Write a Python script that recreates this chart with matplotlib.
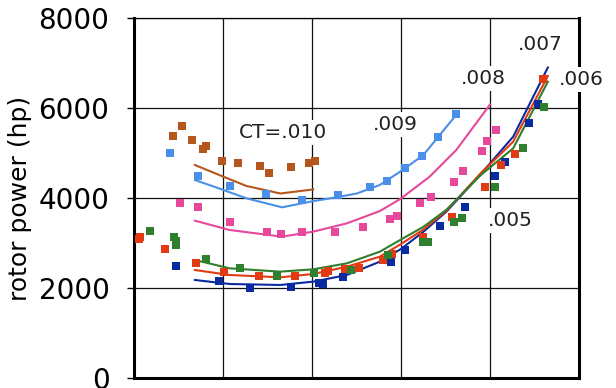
import matplotlib
matplotlib.use("Agg")
import matplotlib.pyplot as plt

# ---------------- data ----------------
y_ticks = [0, 2000, 4000, 6000, 8000]
y_tick_labels = ["0", "2000", "4000", "6000", "8000"]
x_grid = [1, 2, 3, 4]
y_label = "rotor power (hp)"

# measured points (squares)
brown_x = [0.43, 0.53, 0.65, 0.77, 0.80, 0.99, 1.17, 1.41, 1.51, 1.76, 1.96, 2.03]
brown_y = [5378, 5600, 5289, 5082, 5156, 4829, 4770, 4711, 4548, 4681, 4785, 4822]

lblue_x = [0.40, 0.72, 1.07, 1.48, 1.88, 2.29, 2.65, 2.84, 3.04, 3.23, 3.41, 3.62]
lblue_y = [4993, 4489, 4267, 4081, 3956, 4067, 4235, 4378, 4674, 4933, 5348, 5859]

pink_x = [0.51, 0.72, 1.07, 1.49, 1.65, 1.88, 2.26, 2.57, 2.87, 2.95, 3.21, 3.34,
          3.59, 3.70, 3.91, 3.97, 4.07]
pink_y = [3896, 3807, 3474, 3237, 3193, 3252, 3237, 3348, 3526, 3600, 3896, 4015,
          4363, 4607, 5052, 5274, 5511]

navy_x = [0.47, 0.95, 1.30, 1.76, 2.08, 2.12, 2.35, 2.89, 3.04, 3.44, 3.72, 4.06,
          4.17, 4.44, 4.54]
navy_y = [2496, 2156, 2007, 2015, 2104, 2080, 2237, 2585, 2844, 3378, 3793, 4489,
          4807, 5674, 6089]

red_x = [0.05, 0.06, 0.34, 0.69, 1.01, 1.40, 1.81, 2.14, 2.18, 2.37, 2.53, 2.80,
         2.90, 3.25, 3.57, 3.94, 4.12, 4.28, 4.60]
red_y = [3082, 3130, 2867, 2563, 2363, 2267, 2267, 2341, 2385, 2415, 2452, 2622,
         2756, 3141, 3585, 4252, 4733, 4978, 6637]

green_x = [0.17, 0.45, 0.47, 0.47, 0.80, 1.19, 1.60, 2.02, 2.44, 2.85, 3.25, 3.30,
           3.59, 3.68, 4.06, 4.37, 4.61]
green_y = [3274, 3126, 3040, 2955, 2644, 2452, 2267, 2341, 2400, 2733, 3030, 3030,
           3474, 3548, 4252, 5104, 6030]

# fitted curves
brown_fit_x = [0.68, 1.00, 1.26, 1.64, 2.01]
brown_fit_y = [4733, 4474, 4267, 4100, 4190]

lblue_fit_x = [0.68, 1.00, 1.26, 1.66, 2.01, 2.27, 2.50, 2.76, 3.00, 3.25, 3.62]
lblue_fit_y = [4400, 4178, 3993, 3793, 3930, 4015, 4100, 4289, 4600, 4955, 5850]

pink_fit_x = [0.68, 1.07, 1.66, 2.01, 2.39, 2.76, 2.99, 3.32, 3.62, 3.87, 4.00]
pink_fit_y = [3496, 3289, 3141, 3252, 3437, 3710, 3978, 4474, 5067, 5733, 6080]

low_fit_x = [0.68, 1.07, 1.64, 2.01, 2.39, 2.76, 3.00, 3.25, 3.51, 3.89, 4.26, 4.65]
navy_fit_y = [2178, 2089, 2067, 2141, 2289, 2585, 2870, 3250, 3700, 4520, 5363, 6900]
red_fit_y = [2400, 2289, 2237, 2311, 2474, 2696, 2980, 3300, 3720, 4540, 5252, 6711]
green_fit_y = [2622, 2437, 2363, 2415, 2548, 2807, 3080, 3360, 3740, 4500, 5104, 6585]

# curve labels
label_text = ["CT=.010", ".009", ".008", ".007", ".006", ".005"]
label_x = [1.67, 2.93, 3.92, 4.57, 5.03, 4.23]
label_y = [5455, 5624, 6660, 7413, 6637, 3496]

# ---------------- styling ----------------
c_brown = "#B5561C"
c_lblue = "#4A8FE8"
c_pink = "#E8489C"
c_navy = "#0A2AA0"
c_red = "#E23A12"
c_green = "#2E7F2E"

fig = plt.figure(figsize=(6.16, 3.88), dpi=100)
ax = fig.add_axes([0.2183, 0.0258, 0.7216, 0.9278])

ax.set_xlim(0, 5)
ax.set_ylim(0, 8000)

for xg in x_grid:
    ax.axvline(xg, color="#111111", lw=0.9, zorder=1)
for yg in y_ticks[1:]:
    ax.axhline(yg, color="#111111", lw=0.9, zorder=1)

lw = 1.5
ms = 6
ax.plot(brown_fit_x, brown_fit_y, color=c_brown, lw=lw, zorder=3)
ax.plot(lblue_fit_x, lblue_fit_y, color=c_lblue, lw=lw, zorder=3)
ax.plot(pink_fit_x, pink_fit_y, color=c_pink, lw=lw, zorder=3)
ax.plot(low_fit_x, navy_fit_y, color=c_navy, lw=lw, zorder=3)
ax.plot(low_fit_x, red_fit_y, color=c_red, lw=lw, zorder=3)
ax.plot(low_fit_x, green_fit_y, color=c_green, lw=lw, zorder=3)

for xs, ys, c in [(brown_x, brown_y, c_brown), (lblue_x, lblue_y, c_lblue),
                  (pink_x, pink_y, c_pink), (navy_x, navy_y, c_navy),
                  (red_x, red_y, c_red), (green_x, green_y, c_green)]:
    ax.plot(xs, ys, linestyle="none", marker="s", ms=ms, color=c,
            markeredgewidth=0, zorder=4)

for t, xx, yy in zip(label_text, label_x, label_y):
    ax.text(xx, yy, t, ha="center", va="center", fontsize=14.5, color="#222222",
            zorder=6, clip_on=False,
            bbox=dict(boxstyle="square,pad=0.15", fc="white", ec="none"))

ax.set_yticks(y_ticks)
ax.set_yticklabels(y_tick_labels, fontsize=20)
ax.set_xticks([])
ax.tick_params(axis="y", direction="out", length=5, width=1, pad=13)

ax.set_ylabel(y_label, fontsize=18)
ax.yaxis.set_label_coords(-0.2306, 0.5)

for side in ["left", "bottom", "right"]:
    ax.spines[side].set_linewidth(2.2)
    ax.spines[side].set_color("black")
ax.spines["top"].set_linewidth(0.9)
ax.spines["right"].set_zorder(5)

fig.savefig("out.png", dpi=100)
